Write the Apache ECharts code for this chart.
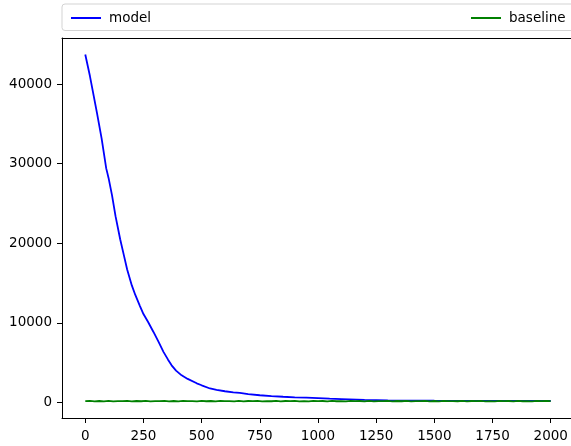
<!DOCTYPE html>
<html>
<head>
<meta charset="utf-8">
<script src="https://cdn.jsdelivr.net/npm/echarts@6/dist/echarts.min.js"></script>
<style>
  html, body { margin: 0; padding: 0; background: #fff; overflow: hidden; }
  #chart { width: 580px; height: 446px; }
</style>
</head>
<body>
<div id="chart"></div>
<script>
// training steps / loss
const modelSteps = [0, 20, 50, 70, 90, 95, 100, 115, 130, 150, 165, 180, 200, 215, 235, 250, 270, 293, 315, 336,
  355, 371, 390, 414, 440, 479, 500, 536, 564, 600, 636, 664, 700, 750, 800, 850, 900, 950, 1000, 1050,
  1100, 1200, 1300, 1400, 1500, 1600, 1700, 1800, 1900, 1905, 1910, 2000];
const modelLoss = [43700, 41000, 36400, 33200, 29400, 28800, 28200, 26000, 23400, 20500, 18600, 16700, 14700, 13500, 12100, 11100, 10100, 8850, 7600, 6350,
  5400, 4660, 4000, 3400, 2950, 2400, 2150, 1750, 1560, 1400, 1250, 1200, 1050, 900, 800, 710, 640, 590, 530, 470,
  420, 320, 260, 230, 210, 200, 200, 195, 190, 330, 200, 190];

const baselineStride = 20;
const baselineLoss = [
  150, 180, 130, 175, 140, 185, 125, 170, 150, 190,
  135, 175, 145, 180, 130, 170, 155, 185, 140, 175,
  130, 180, 150, 170, 135, 190, 145, 175, 125, 180,
  150, 170, 140, 185, 130, 175, 155, 180, 135, 170,
  145, 190, 130, 175, 150, 180, 140, 170, 125, 185,
  155, 175, 135, 180, 145, 170, 130, 190, 150, 175,
  140, 180, 135, 170, 155, 185, 125, 175, 145, 180,
  130, 170, 150, 190, 140, 175, 135, 180, 155, 170,
  145, 185, 130, 175, 150, 180, 140, 170, 125, 190,
  155, 175, 135, 180, 145, 170, 130, 185, 150, 175,
  160];

const xTicks = [0, 250, 500, 750, 1000, 1250, 1500, 1750, 2000];
const yTicks = [0, 10000, 20000, 30000, 40000];

const font = 'DejaVu Sans';

const chart = echarts.init(document.getElementById('chart'), null, { renderer: 'canvas' });

const modelData = modelSteps.map((s, i) => [s, modelLoss[i]]);
const baselineData = baselineLoss.map((v, i) => [i * baselineStride, v]);

const legendText = { fontFamily: font, fontSize: 13.5, color: '#000', padding: [0, 0, 0, 3] };

chart.setOption({
  animation: false,
  backgroundColor: '#fff',
  graphic: [{
    type: 'rect',
    z: -1,
    shape: { x: 62, y: 4, width: 530, height: 26.5, r: 3 },
    style: { fill: '#fff', stroke: '#d3d3d3', lineWidth: 1 }
  }],
  legend: [
    {
      data: ['model'],
      left: 66,
      top: 6,
      icon: 'rect',
      itemWidth: 30,
      itemHeight: 2,
      textStyle: legendText
    },
    {
      data: ['baseline'],
      left: 466,
      top: 6,
      icon: 'rect',
      itemWidth: 30,
      itemHeight: 2,
      textStyle: legendText
    }
  ],
  grid: {
    left: 62,
    top: 38,
    width: 512,
    height: 380,
    show: false,
    containLabel: false
  },
  xAxis: [
    {
      type: 'value',
      min: -100,
      max: 2100,
      axisLine: { onZero: false, lineStyle: { color: '#000', width: 1 } },
      axisTick: { show: true, length: 5, customValues: xTicks, lineStyle: { color: '#000' } },
      axisLabel: { customValues: xTicks, formatter: (v) => String(v), color: '#000', fontFamily: font, fontSize: 13.5, margin: 11 },
      splitLine: { show: false }
    },
    {
      // top spine only
      type: 'value',
      position: 'top',
      min: -100,
      max: 2100,
      axisLine: { onZero: false, lineStyle: { color: '#000', width: 1 } },
      axisTick: { show: false },
      axisLabel: { show: false },
      splitLine: { show: false }
    }
  ],
  yAxis: {
    type: 'value',
    min: -1960,
    max: 45780,
    axisLine: { show: true, onZero: false, lineStyle: { color: '#000', width: 1 } },
    axisTick: { show: true, length: 5, customValues: yTicks, lineStyle: { color: '#000' } },
    axisLabel: { customValues: yTicks, formatter: (v) => String(v), color: '#000', fontFamily: font, fontSize: 13.5, margin: 10 },
    splitLine: { show: false }
  },
  series: [
    {
      name: 'model',
      type: 'line',
      data: modelData,
      showSymbol: false,
      color: '#0000ff',
      lineStyle: { width: 1.8, color: '#0000ff' }
    },
    {
      name: 'baseline',
      type: 'line',
      data: baselineData,
      showSymbol: false,
      color: '#008000',
      lineStyle: { width: 1.8, color: '#008000' }
    }
  ]
});
</script>
</body>
</html>
